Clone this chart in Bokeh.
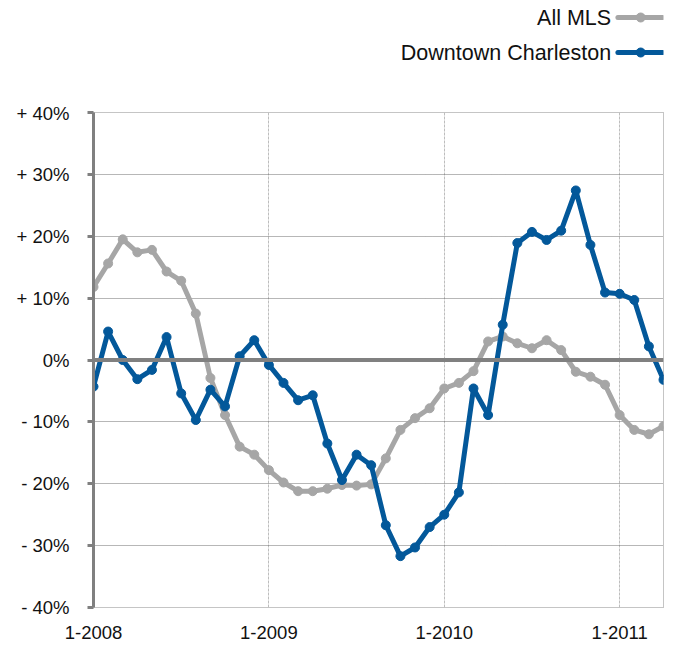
from bokeh.plotting import figure
from bokeh.layouts import column
from bokeh.models import Range1d, FixedTicker, Span
from bokeh.core.properties import value
from bokeh.embed import file_html
from bokeh.resources import INLINE

# Months since 1-2008 (monthly, 1-2008 .. 4-2011)
months = list(range(40))
all_mls = [11.8, 15.6, 19.5, 17.4, 17.8, 14.3, 12.8, 7.5, -2.9, -8.9,
           -14.0, -15.3, -17.8, -19.8, -21.2, -21.2, -20.8, -20.2, -20.3, -20.1,
           -15.9, -11.3, -9.4, -7.8, -4.6, -3.7, -1.8, 3.0, 3.8, 2.7,
           1.9, 3.2, 1.6, -1.9, -2.7, -4.0, -8.9, -11.3, -12.0, -10.7]
downtown = [-4.3, 4.6, 0.0, -3.1, -1.6, 3.7, -5.4, -9.7, -4.8, -7.5,
            0.6, 3.2, -0.8, -3.7, -6.5, -5.7, -13.5, -19.4, -15.3, -17.0,
            -26.7, -31.7, -30.3, -27.0, -25.0, -21.4, -4.6, -8.9, 5.7, 18.9,
            20.7, 19.4, 20.9, 27.4, 18.6, 10.9, 10.7, 9.7, 2.2, -3.2]
x_ticks = [0, 12, 24, 36]
x_labels = ["1-2008", "1-2009", "1-2010", "1-2011"]
y_ticks = [-40, -30, -20, -10, 0, 10, 20, 30, 40]
y_labels = ["- 40%", "- 30%", "- 20%", "- 10%", "0%", "+ 10%", "+ 20%", "+ 30%", "+ 40%"]
series_names = ["All MLS", "Downtown Charleston"]

GRAY = "#a6a6a6"
BLUE = "#03589a"
FONT = "Liberation Sans"

# ---- legend strip ----
W = 675
LH = 102
leg = figure(width=W, height=LH, output_backend="svg", toolbar_location=None,
             x_range=Range1d(0, W), y_range=Range1d(0, LH), min_border=0)
leg.axis.visible = False
leg.grid.visible = False
leg.outline_line_color = None
rows_y = [85, 50]
colors = [GRAY, BLUE]
leg.text(x=[613, 613], y=rows_y, text=series_names, text_align="right",
         text_baseline="middle", text_font=value(FONT), text_font_size="21.5px",
         text_color="#111111")
for yy, c in zip(rows_y, colors):
    leg.line([621, 674], [yy, yy], line_color=c, line_width=5, line_cap="round")
    leg.scatter([648], [yy], size=9, color=c)

# ---- main chart ----
p = figure(frame_width=570, frame_height=495, output_backend="svg", toolbar_location=None,
           x_range=Range1d(0, 39), y_range=Range1d(-40, 40),
           min_border_left=93, min_border_right=12, min_border_top=10, min_border_bottom=39)

p.xaxis.ticker = FixedTicker(ticks=x_ticks)
p.xaxis.major_label_overrides = {t: l for t, l in zip(x_ticks, x_labels)}
p.yaxis.ticker = FixedTicker(ticks=y_ticks)
p.yaxis.major_label_overrides = {t: l for t, l in zip(y_ticks, y_labels)}

for ax in (p.xaxis, p.yaxis):
    ax.major_label_text_font = FONT
    ax.major_label_text_font_size = "18.5px"
    ax.major_label_text_color = "#111111"
    ax.minor_tick_line_color = None

p.xaxis.axis_line_color = None
p.xaxis.major_tick_line_color = None
p.xaxis.major_label_standoff = 12

p.yaxis.axis_line_color = "#808080"
p.yaxis.axis_line_width = 3
p.yaxis.major_tick_line_color = "#808080"
p.yaxis.major_tick_line_width = 3
p.yaxis.major_tick_out = 6
p.yaxis.major_tick_in = 0
p.yaxis.major_label_standoff = 18

p.ygrid.grid_line_color = "#6e6e6e"
p.ygrid.grid_line_dash = "1 1"
p.ygrid.grid_line_width = 1
p.xgrid.grid_line_color = "#bdbdbd"
p.xgrid.grid_line_dash = "3 1"
p.xgrid.grid_line_width = 1

p.outline_line_color = "#8a8a8a"
p.outline_line_dash = "1 1"
p.outline_line_width = 1

p.add_layout(Span(location=0, dimension="width", line_color="#808080", line_width=4))

p.line(months, all_mls, line_color=GRAY, line_width=5, line_join="round")
p.scatter(months, all_mls, size=9, color=GRAY)
p.line(months, downtown, line_color=BLUE, line_width=5, line_join="round")
p.scatter(months, downtown, size=9, color=BLUE)

layout = column(leg, p, spacing=0)
open("out.html", "w").write(file_html(layout, INLINE))
